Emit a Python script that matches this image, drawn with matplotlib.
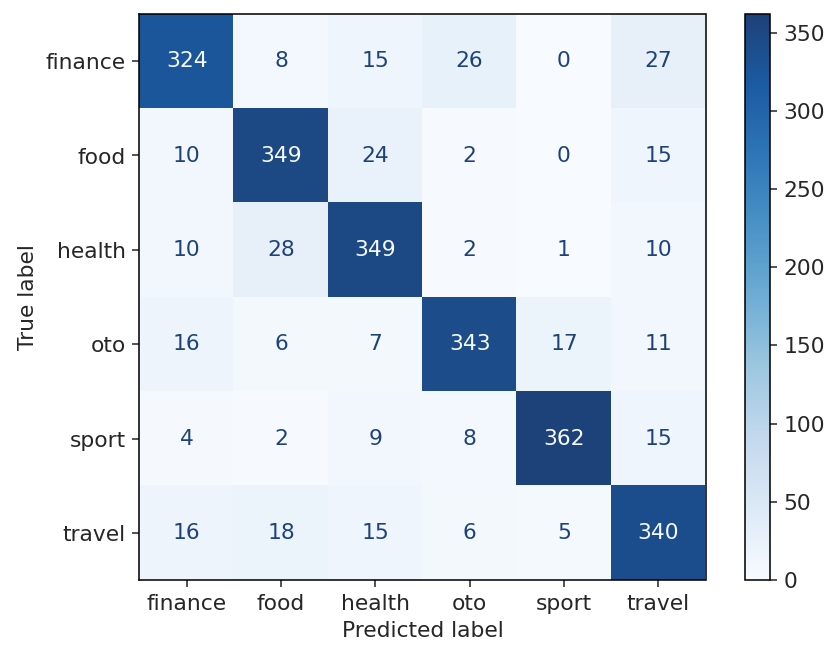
import numpy as np
import matplotlib
matplotlib.use("Agg")
import matplotlib.pyplot as plt
from matplotlib.colors import ListedColormap

labels = ["finance", "food", "health", "oto", "sport", "travel"]
cm = np.array([
    [324, 8, 15, 26, 0, 27],
    [10, 349, 24, 2, 0, 15],
    [10, 28, 349, 2, 1, 10],
    [16, 6, 7, 343, 17, 11],
    [4, 2, 9, 8, 362, 15],
    [16, 18, 15, 6, 5, 340],
])

# Blues, slightly lifted at the dark end to match the reference tone
t = np.linspace(0, 1, 256)[:, None]
rgb = plt.get_cmap("Blues")(t[:, 0])[:, :3]
w = 0.16 * t
rgb = rgb * (1 - w) + w * np.array([0.55, 0.62, 0.78])
cmap = ListedColormap(np.clip(rgb, 0, 1))

plt.rcParams['font.size'] = 11.2
plt.rcParams['text.color'] = '#262626'
plt.rcParams['xtick.color'] = '#262626'
plt.rcParams['ytick.color'] = '#262626'
plt.rcParams['axes.labelcolor'] = '#262626'
DPI = 140
fig = plt.figure(figsize=(829 / DPI, 648 / DPI), dpi=DPI)
ax = fig.add_axes([137 / 829, 1 - 580 / 648, (708 - 137) / 829, (580 - 14) / 648])
im = ax.imshow(cm, cmap=cmap, interpolation="nearest", vmin=0, vmax=cm.max())
thresh = (cm.max() + cm.min()) / 2.0
for i in range(cm.shape[0]):
    for j in range(cm.shape[1]):
        color = cmap(0) if cm[i, j] > thresh else cmap(255)
        ax.text(j, i, str(cm[i, j]), ha="center", va="center", color=color)
ax.set_xticks(range(len(labels)))
ax.set_xticklabels(labels)
ax.set_yticks(range(len(labels)))
ax.set_yticklabels(labels)
ax.set_xlabel("Predicted label")
ax.set_ylabel("True label")
cax = fig.add_axes([745 / 829, 1 - 580 / 648, 25 / 829, (580 - 14) / 648])
cb = fig.colorbar(im, cax=cax)
cb.set_ticks([0, 50, 100, 150, 200, 250, 300, 350])
fig.savefig("out.png", dpi=DPI)
